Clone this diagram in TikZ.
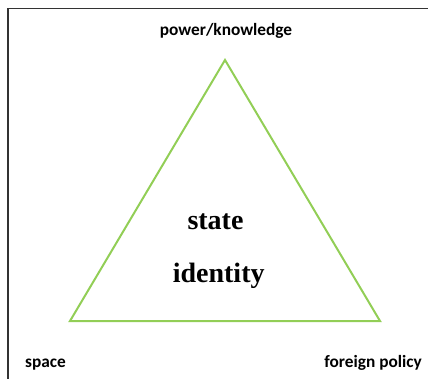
\documentclass[tikz,border=0pt]{standalone}
\usepackage{fontspec}
\setmainfont{Carlito}
\newfontfamily\centrefont{Liberation Serif}
\definecolor{sidegreen}{RGB}{146,206,86}
\tikzset{corner/.style={inner sep=0pt,font=\fontsize{17.3}{20}\selectfont\bfseries},
  centre/.style={inner sep=0pt,anchor=base,font=\centrefont\fontsize{28}{32}\selectfont\bfseries}}
\begin{document}
\begin{tikzpicture}[x=1pt,y=-1pt]
  \useasboundingbox(0,0)rectangle(428,379);
  \draw[line width=1.6pt,black!80](8,379)--(8,8.5)--(428,8.5);
  \coordinate(apex)at(225,60);
  \coordinate(bl)at(70,321);
  \coordinate(br)at(380,321);
  \draw[sidegreen,line width=2pt](apex)--(bl)--(br)--cycle;
  \node[corner,anchor=base](power)at(226,35.3){power/knowledge};
  \node[corner,anchor=base west](space)at(25,367){space};
  \node[corner,anchor=base east](policy)at(422,367){foreign policy};
  \node[centre](state)at(215.5,230){state};
  \node[centre](identity)at(218.7,283){identity};
\end{tikzpicture}
\end{document}
